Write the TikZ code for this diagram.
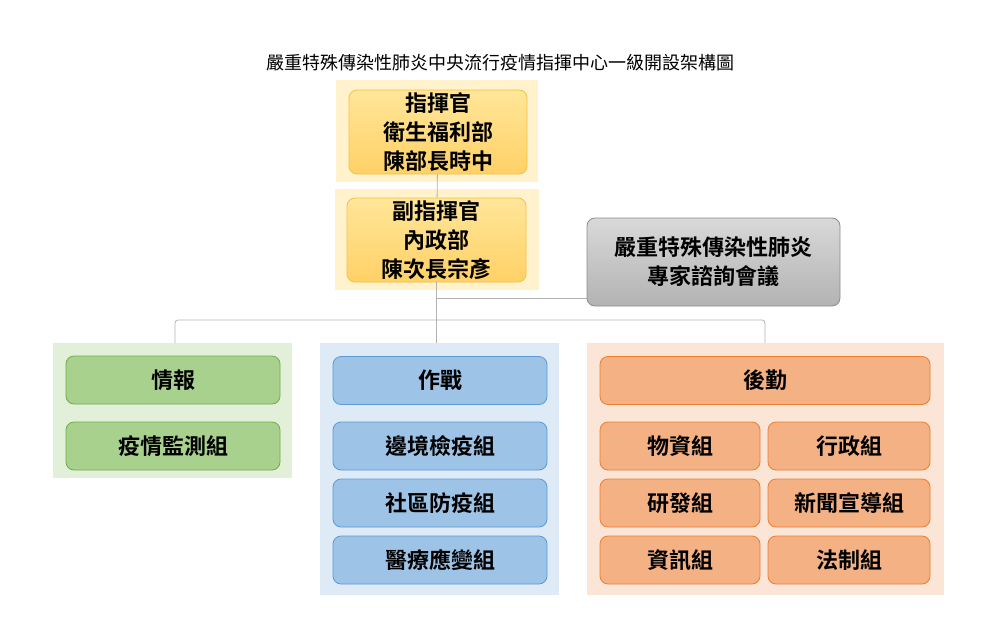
\documentclass[tikz,border=0pt]{standalone}
\usepackage{fontspec}
\setmainfont{Noto Sans CJK TC}[BoldFont={Noto Sans CJK TC Bold}]
\definecolor{ybg}{HTML}{FFF2CC}
\definecolor{gbg}{HTML}{E2F0D9}
\definecolor{bbg}{HTML}{DEEBF7}
\definecolor{obg}{HTML}{FBE5D6}
\definecolor{yf1}{HTML}{FFE699}
\definecolor{yf2}{HTML}{FFD166}
\definecolor{yd}{HTML}{F4C242}
\definecolor{gf}{HTML}{A9D18E}
\definecolor{gd}{HTML}{70AD47}
\definecolor{bf}{HTML}{9DC3E6}
\definecolor{bd}{HTML}{5B9BD5}
\definecolor{of}{HTML}{F4B183}
\definecolor{od}{HTML}{ED7D31}
\begin{document}
\begin{tikzpicture}[x=1pt,y=-1pt,
 bx/.style={draw,rounded corners=8pt,line width=0.8pt,align=center,inner sep=0pt,font=\fontsize{22}{29}\selectfont\bfseries},
 ln/.style={draw=black!30,line width=0.8pt}]
\useasboundingbox (0,0) rectangle (1007,616);
\node at (500,63) {\fontsize{18}{20}\selectfont 嚴重特殊傳染性肺炎中央流行疫情指揮中心一級開設架構圖};
\fill[ybg] (336,80) rectangle (538,182);
\fill[ybg] (335,189) rectangle (539,290);
\fill[gbg] (53,343) rectangle (292,478);
\fill[bbg] (320,343) rectangle (559,595);
\fill[obg] (587,343) rectangle (944,595);
\coordinate (jl) at (175,320);
\coordinate (jr) at (765,320);
\coordinate (jg) at (442,298);
\node[bx,draw=yd,top color=yf1,bottom color=yf2,minimum width=178pt,minimum height=84pt] (chief) at (438,132) {指揮官\\衛生福利部\\陳部長時中};
\node[bx,draw=yd,top color=yf1,bottom color=yf2,minimum width=179pt,minimum height=84pt] (dep) at (436.5,240) {副指揮官\\內政部\\陳次長宗彥};
\node[bx,draw=black!45,top color=black!15,bottom color=black!30,minimum width=253pt,minimum height=88pt] (exp) at (713.5,262) {嚴重特殊傳染性肺炎\\專家諮詢會議};
\draw[ln] (chief) -- (dep);
\draw[ln] (dep.south) -- ++(0,61);
\draw[ln] (dep.south|-jg) -- (exp.west|-jg);
\draw[ln,rounded corners=3pt] (175,343) -- (jl) -- (jr) -- (765,343);
\tikzset{gb/.style={bx,draw=gd,fill=gf,minimum width=214pt,minimum height=48pt},
 bb/.style={bx,draw=bd,fill=bf,minimum width=214pt,minimum height=48pt},
 ob/.style={bx,draw=od,fill=of,minimum height=48pt}}
\node[gb] (g1) at (173,380) {情報};
\node[gb] (g2) at (173,446) {疫情監測組};
\node[bb] (b1) at (440,380.5) {作戰};
\node[bb] (b2) at (440,446) {邊境檢疫組};
\node[bb] (b3) at (440,503) {社區防疫組};
\node[bb] (b4) at (440,560) {醫療應變組};
\node[ob,minimum width=330pt] (o1) at (765,380.5) {後勤};
\node[ob,minimum width=160pt] (o2) at (680,446) {物資組};
\node[ob,minimum width=162pt] (o3) at (849,446) {行政組};
\node[ob,minimum width=160pt] (o4) at (680,503) {研發組};
\node[ob,minimum width=162pt] (o5) at (849,503) {新聞宣導組};
\node[ob,minimum width=160pt] (o6) at (680,560) {資訊組};
\node[ob,minimum width=162pt] (o7) at (849,560) {法制組};
\end{tikzpicture}
\end{document}
